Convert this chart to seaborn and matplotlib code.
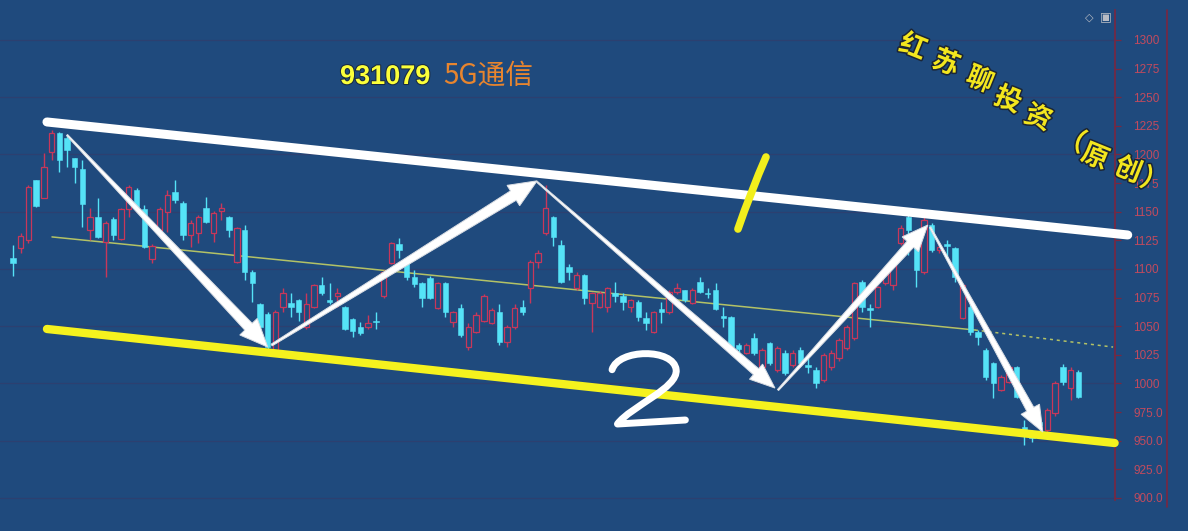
import numpy as np
import pandas as pd
import matplotlib
matplotlib.use("Agg")
import matplotlib.pyplot as plt
import seaborn as sns
from matplotlib.patches import Polygon, PathPatch
from matplotlib.path import Path
from matplotlib.lines import Line2D
from matplotlib.ticker import FuncFormatter, FixedLocator
import matplotlib.patheffects as pe

# ---------------- data (daily OHLC of index 931079) ----------------
opens = [1110, 1118, 1125, 1178, 1162, 1202, 1219, 1214, 1197, 1187,
         1134, 1145, 1124, 1144, 1126, 1152, 1169, 1152, 1109, 1134,
         1150, 1167, 1158, 1130, 1131, 1153, 1131, 1151, 1145, 1106,
         1134, 1097, 1069, 1061, 1029, 1067, 1070, 1073, 1049, 1067,
         1086, 1073, 1076, 1067, 1056, 1049, 1049, 1055, 1076, 1105,
         1122, 1106, 1093, 1088, 1092, 1066, 1088, 1054, 1066, 1032,
         1045, 1055, 1053, 1062, 1036, 1049, 1067, 1083, 1106, 1131,
         1145, 1121, 1102, 1083, 1095, 1070, 1067, 1067, 1079, 1076,
         1067, 1071, 1057, 1045, 1065, 1062, 1080, 1082, 1070, 1089,
         1079, 1082, 1059, 1058, 1034, 1027, 1040, 1014, 1035, 1012,
         1027, 1016, 1029, 1016, 1012, 1003, 1014, 1022, 1031, 1040,
         1089, 1066, 1067, 1088, 1086, 1123, 1145, 1121, 1097, 1138,
         1117, 1122, 1118, 1057, 1067, 1045, 1029, 1018, 994, 1001,
         1014, 962, 955, 966, 959, 974, 1014, 996, 1010]
highs = [1121, 1131, 1173, 1178, 1201, 1221, 1220, 1217, 1197, 1195,
         1153, 1162, 1142, 1145, 1153, 1173, 1171, 1156, 1122, 1154,
         1169, 1178, 1159, 1143, 1147, 1163, 1151, 1158, 1146, 1137,
         1138, 1099, 1070, 1062, 1064, 1083, 1079, 1074, 1079, 1087,
         1093, 1088, 1083, 1068, 1057, 1054, 1060, 1062, 1099, 1124,
         1127, 1107, 1099, 1089, 1094, 1089, 1089, 1063, 1069, 1053,
         1062, 1078, 1066, 1069, 1051, 1069, 1073, 1108, 1117, 1173,
         1146, 1125, 1104, 1097, 1096, 1080, 1081, 1084, 1089, 1079,
         1074, 1073, 1062, 1063, 1071, 1082, 1088, 1082, 1083, 1093,
         1083, 1088, 1067, 1059, 1035, 1035, 1044, 1031, 1036, 1033,
         1029, 1029, 1032, 1022, 1014, 1027, 1029, 1040, 1051, 1089,
         1090, 1069, 1085, 1101, 1110, 1138, 1147, 1123, 1145, 1140,
         1123, 1125, 1119, 1087, 1075, 1047, 1031, 1019, 1007, 1015,
         1015, 968, 959, 968, 979, 1002, 1017, 1014, 1012]
lows = [1094, 1114, 1123, 1154, 1162, 1195, 1185, 1189, 1175, 1137,
        1125, 1127, 1093, 1125, 1125, 1145, 1153, 1118, 1105, 1131,
        1132, 1158, 1125, 1119, 1123, 1140, 1124, 1143, 1128, 1105,
        1090, 1071, 1047, 1029, 1028, 1062, 1058, 1055, 1048, 1066,
        1077, 1069, 1067, 1047, 1041, 1042, 1048, 1048, 1075, 1104,
        1110, 1090, 1084, 1067, 1074, 1065, 1058, 1049, 1041, 1029,
        1044, 1054, 1052, 1034, 1032, 1048, 1060, 1070, 1101, 1130,
        1120, 1088, 1090, 1082, 1069, 1045, 1066, 1062, 1071, 1064,
        1062, 1055, 1047, 1044, 1053, 1061, 1078, 1071, 1069, 1079,
        1075, 1064, 1049, 1031, 1025, 1026, 1025, 1013, 1016, 1010,
        1007, 1014, 1017, 1009, 996, 1001, 1012, 1020, 1029, 1038,
        1062, 1049, 1066, 1086, 1082, 1121, 1112, 1084, 1096, 1115,
        1114, 1108, 1089, 1056, 1042, 1034, 1003, 987, 993, 1000,
        987, 946, 949, 957, 958, 972, 999, 986, 987]
closes = [1105, 1129, 1172, 1155, 1189, 1219, 1195, 1204, 1189, 1157,
          1145, 1128, 1140, 1130, 1152, 1172, 1154, 1119, 1120, 1152,
          1165, 1160, 1130, 1140, 1145, 1141, 1149, 1153, 1134, 1136,
          1097, 1088, 1049, 1032, 1062, 1079, 1067, 1062, 1069, 1086,
          1079, 1071, 1079, 1048, 1046, 1044, 1053, 1054, 1097, 1123,
          1117, 1093, 1087, 1075, 1075, 1088, 1062, 1062, 1042, 1049,
          1060, 1076, 1064, 1036, 1049, 1066, 1062, 1106, 1114, 1153,
          1128, 1089, 1097, 1095, 1075, 1079, 1079, 1083, 1076, 1071,
          1073, 1058, 1053, 1062, 1062, 1080, 1083, 1073, 1082, 1080,
          1078, 1065, 1057, 1032, 1030, 1034, 1027, 1029, 1018, 1031,
          1009, 1027, 1018, 1014, 1000, 1025, 1027, 1038, 1049, 1088,
          1067, 1064, 1084, 1099, 1106, 1136, 1134, 1099, 1143, 1117,
          1119, 1120, 1093, 1086, 1045, 1041, 1006, 1000, 1006, 1014,
          988, 959, 952, 964, 977, 1000, 1001, 1012, 988]

# price-axis tick values
tick_values = [900, 925, 950, 975, 1000, 1025, 1050, 1075, 1100, 1125,
               1150, 1175, 1200, 1225, 1250, 1275, 1300]
grid_values = [900, 950, 1000, 1050, 1100, 1150, 1200, 1250, 1300]

# hand-drawn annotation anchors (bar index, price)
upper_channel = ([4.4, 144.4], [1228.4, 1129.7])
lower_channel = ([4.4, 142.7], [1047.6, 948.0])
mid_line_solid = ([5.05, 124.6], [1128.0, 1046.7])
mid_line_dotted = ([124.6, 142.5], [1046.7, 1031.8])
arrows = [
    ((7.0, 1217.0), (33.0, 1031.8), 1.5, 10, 24, 28),
    ((33.5, 1033.6), (67.9, 1177.0), 2.0, 11, 24, 28),
    ((67.9, 1176.0), (98.7, 996.0), 1.2, 8, 20, 25),
    ((99.1, 994.3), (118.5, 1138.4), 1.5, 9, 22, 26),
    ((118.8, 1136.5), (133.4, 957.6), 1.5, 8, 21, 26),
]
title_code = "931079"
title_name = "5G通信"
watermark = list("红苏聊投资（原创）")

# ---------------- style ----------------
BG = "#1f4a7d"
RED = "#c8375a"
CYAN = "#55e3f7"
GRID = "#2c4070"
AXIS_RED = "#7a2740"
LABEL_RED = "#c24a5e"

sns.set_theme(style="dark", rc={"axes.facecolor": BG, "figure.facecolor": BG})
plt.rcParams["font.family"] = ["Liberation Sans", "Noto Sans CJK SC", "DejaVu Sans"]

df = pd.DataFrame({"open": opens, "high": highs, "low": lows, "close": closes})
df["idx"] = np.arange(len(df))
up = df[df.close >= df.open]
dn = df[df.close < df.open]

fig = plt.figure(figsize=(11.88, 5.31), dpi=100, facecolor=BG)
ax = fig.add_axes([0, 0, 1115 / 1188, 1])
ax.set_facecolor(BG)
ax.set_xlim(-1.684, 142.75)
ax.set_ylim(871.15, 1334.93)

for v in grid_values:
    ax.axhline(v, color=GRID, lw=0.9, zorder=0)

# mid reference line
sns.lineplot(x=mid_line_solid[0], y=mid_line_solid[1], ax=ax, color="#b3c266",
             lw=1.1, zorder=1, legend=False)
ax.plot(mid_line_dotted[0], mid_line_dotted[1], color="#b3c266", lw=1.1,
        ls=(0, (2, 2.5)), zorder=1)

W = 0.7
# down candles (filled cyan)
ax.vlines(dn.idx, dn.low, dn.high, color=CYAN, lw=1.0, zorder=3)
ax.bar(dn.idx, (dn.open - dn.close).clip(lower=0.8), bottom=dn.close, width=W,
       color=CYAN, edgecolor=CYAN, lw=0.4, zorder=4)
# up candles (hollow red)
ax.vlines(up.idx, up.low, up.open, color=RED, lw=1.0, zorder=3)
ax.vlines(up.idx, up.close, up.high, color=RED, lw=1.0, zorder=3)
ax.bar(up.idx, (up.close - up.open).clip(lower=0.8), bottom=up.open, width=W,
       facecolor=BG, edgecolor=RED, lw=0.9, zorder=4)

# channel lines
ax.plot(*upper_channel, color="white", lw=6.5, solid_capstyle="round",
        zorder=7, clip_on=False)
ax.plot(*lower_channel, color="#f5f21e", lw=6.0, solid_capstyle="round",
        zorder=7, clip_on=False)


def taper_arrow(p0, p1, w0, w1, hw, hl):
    T = ax.transData
    a = T.transform(p0)
    b = T.transform(p1)
    d = b - a
    u = d / np.hypot(*d)
    nrm = np.array([-u[1], u[0]])
    base = b - u * hl
    pts = [a + nrm * w0 / 2, base + nrm * w1 / 2, base + nrm * hw / 2, b,
           base - nrm * hw / 2, base - nrm * w1 / 2, a - nrm * w0 / 2]
    data = T.inverted().transform(pts)
    ax.add_patch(Polygon(data, closed=True, fc="white", ec="#d9dde3",
                         lw=0.7, zorder=8))


for p0, p1, w0, w1, hw, hl in arrows:
    taper_arrow(p0, p1, w0, w1, hw, hl)

# hand-drawn "1" stroke
one = Path([(93.91, 1134.9), (95.6, 1168.0), (97.54, 1197.8)],
           [Path.MOVETO, Path.CURVE3, Path.CURVE3])
ax.add_patch(PathPatch(one, fc="none", ec="#f2ef1c", lw=5.5, capstyle="round",
                       zorder=9))
# hand-drawn "2"
two = Path([(77.6, 1012.0),
            (78.4, 1030.5), (85.6, 1031.0), (85.9, 1012.0),
            (86.2, 996.0), (80.0, 980.0), (78.3, 964.6),
            (87.1, 968.1)],
           [Path.MOVETO, Path.CURVE4, Path.CURVE4, Path.CURVE4,
            Path.CURVE4, Path.CURVE4, Path.CURVE4, Path.LINETO])
ax.add_patch(PathPatch(two, fc="none", ec="white", lw=5.0, capstyle="round",
                       joinstyle="round", zorder=9))

# axes / ticks
for s in ["top", "left", "bottom"]:
    ax.spines[s].set_visible(False)
ax.spines["right"].set_visible(True)
ax.spines["right"].set_color(AXIS_RED)
ax.spines["right"].set_linewidth(1.2)
ax.spines["right"].set_bounds(898, 1326)
ax.set_xticks([])
ax.yaxis.tick_right()
ax.yaxis.set_major_locator(FixedLocator(tick_values))
ax.yaxis.set_major_formatter(FuncFormatter(
    lambda v, p: f"{v:.0f}" if v >= 1000 else f"{v:.1f}"))
ax.tick_params(axis="y", which="major", right=True, length=4, width=0.9,
               color=AXIS_RED, labelcolor=LABEL_RED, labelsize=8.5, pad=9)
for t in ax.get_yticklabels():
    t.set_fontfamily(["Liberation Sans", "DejaVu Sans"])
ax.grid(False)
fig.add_artist(Line2D([1167 / 1188] * 2, [1 - 507 / 531, 1 - 10 / 531],
                      color=AXIS_RED, lw=1.2, transform=fig.transFigure))

# title
fig.text(340 / 1188, 1 - 84 / 531, title_code, color="#fbff3a", fontsize=19.5,
         fontweight="bold", family=["Liberation Sans", "DejaVu Sans"],
         va="baseline", ha="left",
         path_effects=[pe.withStroke(linewidth=1.5, foreground="#1a2a40")])
fig.text(443 / 1188, 1 - 84 / 531, title_name, color="#e8852e", fontsize=20,
         family=["Noto Sans CJK SC", "DejaVu Sans"], va="baseline", ha="left")

# watermark along a curve
wm_px = [(913, 47), (946, 63), (980, 80), (1008, 100), (1038, 118),
         (1072, 140), (1095, 157), (1128, 170), (1154, 182)]
for ch, (px, py) in zip(watermark, wm_px):
    fig.text(px / 1188, 1 - py / 531, ch, color="#f3e61e", fontsize=19.5,
             rotation=-22, ha="center", va="center",
             family=["Noto Sans CJK SC", "DejaVu Sans"], fontweight="bold",
             path_effects=[pe.withStroke(linewidth=2.2, foreground="#1b2535")])

# top-right small icons
fig.text(1089 / 1188, 1 - 18 / 531, "◇", color="#b8bcc4", fontsize=8,
         ha="center", va="center", family=["DejaVu Sans"])
fig.text(1106 / 1188, 1 - 17 / 531, "▣", color="#b8bcc4", fontsize=9,
         ha="center", va="center", family=["DejaVu Sans"])

fig.savefig("out.png", dpi=100, facecolor=BG)
